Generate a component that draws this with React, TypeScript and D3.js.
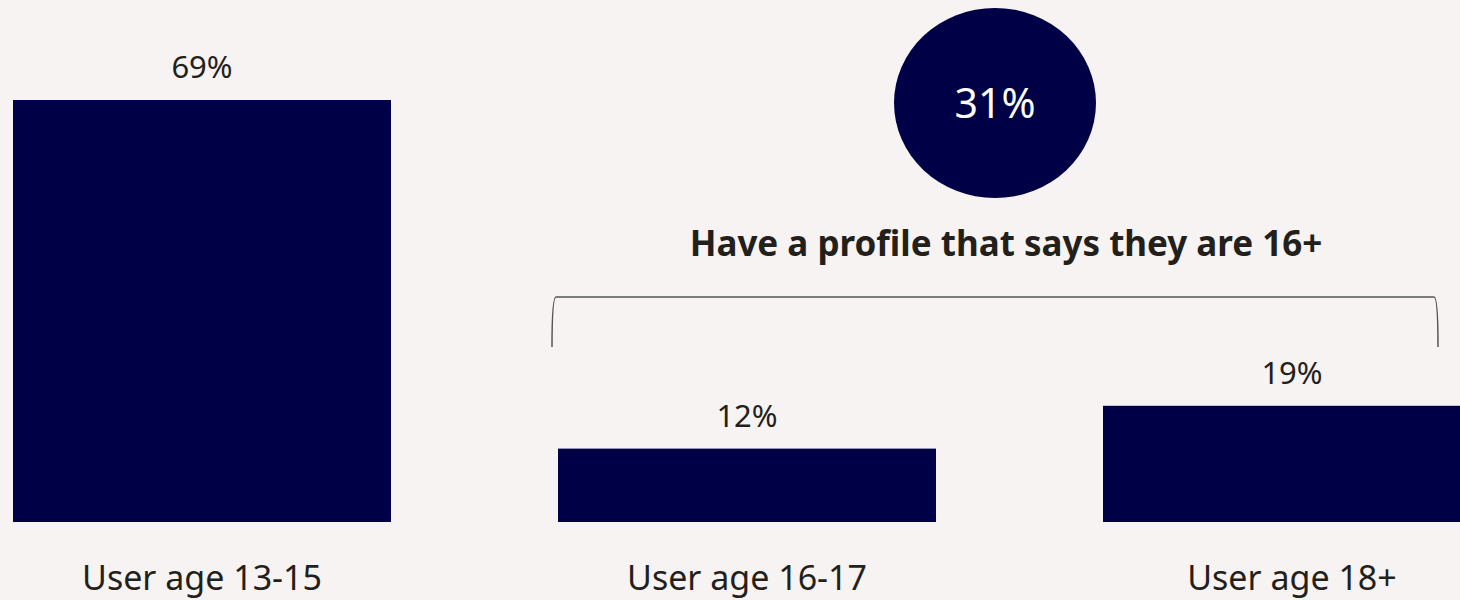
import React from 'react';
import * as d3 from 'd3';

const categories = ['User age 13-15', 'User age 16-17', 'User age 18+'];
const values = [69, 12, 19];
const summaryValue = 31;
const summaryLabel = 'Have a profile that says they are 16+';

const width = 1460;
const height = 600;
const navy = '#000046';
const ink = '#231f1a';
const font = '"Noto Sans", "Open Sans", sans-serif';

function App() {
  // step 545px, bar 378px; third bar runs past the right edge
  const x = d3
    .scaleBand<string>()
    .domain(categories)
    .range([13, 13 + 545 * 3 - 167])
    .paddingInner(167 / 545)
    .paddingOuter(0);

  const y = d3.scaleLinear().domain([0, 69]).range([522, 100]);

  const left = (x(categories[1]) ?? 0) - 6;
  const right = width - 22;
  const top = 297;
  const bottom = 347;
  const bracket = d3.path();
  bracket.moveTo(left, bottom);
  bracket.quadraticCurveTo(left, top, left + 4, top);
  bracket.lineTo(right - 4, top);
  bracket.quadraticCurveTo(right, top, right, bottom);

  return (
    <svg
      width={width}
      height={height}
      viewBox={`0 0 ${width} ${height}`}
      style={{ position: 'absolute', left: 0, top: 0, background: '#f7f3f2' }}
    >
      <rect width={width} height={height} fill="#f7f3f2" />
      {categories.map((c, i) => {
        const bx = x(c) ?? 0;
        const cx = bx + x.bandwidth() / 2;
        return (
          <g key={c}>
            <rect x={bx} y={y(values[i])} width={x.bandwidth()} height={y(0) - y(values[i])} fill={navy} />
            <text x={cx} y={y(values[i]) - 22} textAnchor="middle" fontFamily={font} fontSize={31} fill={ink}>
              {values[i]}%
            </text>
            <text x={cx} y={590} textAnchor="middle" fontFamily={font} fontSize={34} fill={ink}>
              {c}
            </text>
          </g>
        );
      })}
      <ellipse cx={995} cy={103} rx={101} ry={95} fill={navy} />
      <text x={995} y={118} textAnchor="middle" fontFamily={font} fontSize={41} fill="#ffffff">
        {summaryValue}%
      </text>
      <text x={1006} y={256} textAnchor="middle" fontFamily={font} fontSize={35} fontWeight="bold" fill={ink}>
        {summaryLabel}
      </text>
      <path d={bracket.toString()} fill="none" stroke="#555" strokeWidth={1.5} />
    </svg>
  );
}

export default App;
